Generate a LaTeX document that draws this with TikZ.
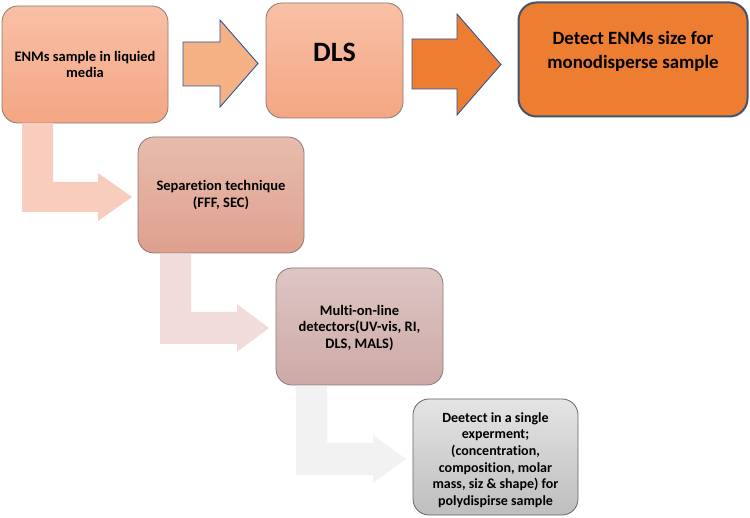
\documentclass[tikz,border=0pt]{standalone}
\usepackage{fontspec}
\setmainfont{Carlito}[Ligatures=NoCommon]
\usetikzlibrary{calc}
\definecolor{peachT}{HTML}{F8C0A7}
\definecolor{peachB}{HTML}{F4A683}
\definecolor{orangeF}{HTML}{ED7D31}
\definecolor{slateB}{HTML}{41546B}
\definecolor{arrowBlue}{HTML}{2F5597}
\definecolor{arrowPeach}{HTML}{F4B183}
\definecolor{sepT}{HTML}{E7BCAD}
\definecolor{sepB}{HTML}{DFA08E}
\definecolor{mulT}{HTML}{DDC6C4}
\definecolor{mulB}{HTML}{CDA9A6}
\definecolor{grayT}{HTML}{E4E4E4}
\definecolor{grayB}{HTML}{BEBEBE}
\definecolor{bentA}{HTML}{F8CDBE}
\definecolor{bentB}{HTML}{F2DCDB}
\definecolor{bentC}{HTML}{F2F2F2}
\definecolor{edgeG}{HTML}{8A7A76}
\tikzset{
  boxbase/.style={rectangle, rounded corners=16pt, draw=edgeG, line width=0.8pt, inner sep=0pt},
  peachbox/.style={boxbase, top color=peachT, bottom color=peachB},
  sepbox/.style={boxbase, top color=sepT, bottom color=sepB},
  mulbox/.style={boxbase, top color=mulT, bottom color=mulB},
  graybox/.style={boxbase, top color=grayT, bottom color=grayB, draw=gray!80!black},
  orangebox/.style={rectangle, rounded corners=18pt, draw=slateB, line width=2pt, fill=orangeF, inner sep=0pt},
  txt/.style={align=center, font=\bfseries\fontsize{14.5}{16.5}\selectfont, text=black},
  blockarrow/.style={draw=arrowBlue, line width=0.9pt, line join=miter},
}
\begin{document}
\begin{tikzpicture}[x=1pt,y=-1pt]
\useasboundingbox (0,0) rectangle (750,518);
\fill[white] (0,0) rectangle (750,518);
% boxes
\node[peachbox, minimum width=166pt, minimum height=117pt] (b1) at (85,64.5) {};
\node[txt] (t1) at (85,64.5) {ENMs sample in liquied\\media};
\node[peachbox, minimum width=137pt, minimum height=115pt] (b2) at (334.5,60.5) {};
\node[txt, font=\bfseries\fontsize{28}{32}\selectfont] (t2) at (334.5,52) {DLS};
\node[orangebox, minimum width=229pt, minimum height=114pt] (b3) at (633,59.5) {};
\node[txt, font=\bfseries\fontsize{18.8}{24}\selectfont] (t3) at (633,51) {Detect ENMs size for\\monodisperse sample};
\node[sepbox, minimum width=166pt, minimum height=116pt] (b4) at (221,195) {};
\node[txt] (t4) at (221,195) {Separetion technique\\(FFF, SEC)};
\node[mulbox, minimum width=167pt, minimum height=117pt] (b5) at (359.5,326.5) {};
\node[txt] (t5) at (359.5,328) {Multi-on-line\\detectors(UV-vis, RI,\\DLS, MALS)};
\node[graybox, minimum width=165pt, minimum height=116pt] (b6) at (495.5,457) {};
\node[txt, font=\bfseries\fontsize{14}{16.7}\selectfont] (t6) at (495.5,460) {Deetect in a single\\experment;\\(concentration,\\composition, molar\\mass, siz \& shape) for\\polydispirse sample};
% straight block arrows
\draw[blockarrow, fill=arrowPeach] (183,42) -- (220,42) -- (220,20) -- (258,63.5) -- (220,107) -- (220,86) -- (183,86) -- cycle;
\draw[blockarrow, fill=orangeF] (412,39) -- (457,39) -- (457,14) -- (501,64.5) -- (457,115) -- (457,89) -- (412,89) -- cycle;
% bent arrows
\fill[bentA] (22,123) -- (53,123) -- (53,182) -- (98,182) -- (98,173) -- (132,197) -- (98,221) -- (98,212) -- (22,212) -- cycle;
\fill[bentB] (160,254) -- (191,254) -- (191,312) -- (237,312) -- (237,304) -- (269,328) -- (237,352) -- (237,344) -- (160,344) -- cycle;
\fill[bentC] (296,386) -- (327,386) -- (327,443) -- (373,443) -- (373,435) -- (406,459) -- (373,483) -- (373,475) -- (296,475) -- cycle;
\end{tikzpicture}
\end{document}
